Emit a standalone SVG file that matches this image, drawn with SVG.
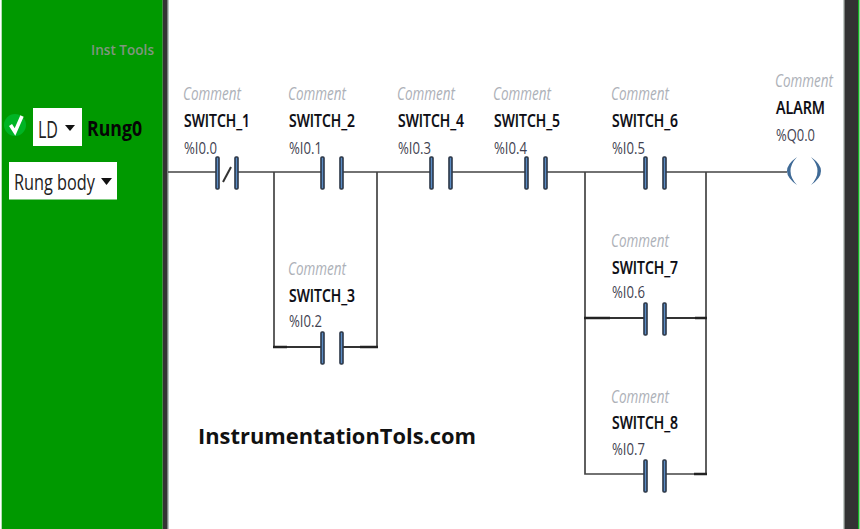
<svg xmlns="http://www.w3.org/2000/svg" width="860" height="529" viewBox="0 0 860 529">
<style>
text{font-family:"Open Sans","Noto Sans","DejaVu Sans",sans-serif}
.c{font-size:17.5px;font-style:italic;fill:#adb1b8}
.n{font-size:18px;font-weight:600;fill:#0a0a12;stroke:#0a0a12;stroke-width:.2}
.a{font-size:17px;fill:#3f3f50}
.bar{fill:#5b8cc4;stroke:#2b3646;stroke-width:1.6}
.w{stroke:#444;stroke-width:1.7;fill:none}
.m{stroke:#333;stroke-width:2.200;fill:none}
.t{stroke:#222;stroke-width:2.600;fill:none}
.p{fill:#3f6a96}
</style>
<defs>
<g id="contact"><rect class="bar" x="0" y="0" width="3" height="32" rx="1"/><rect class="bar" x="19" y="0" width="3" height="32" rx="1"/></g>
</defs>
<rect width="860" height="529" fill="#fff"/>
<g id="panel">
<rect x="1.700" y="0" width="161" height="529" fill="#009900"/>
<rect x="162.700" y="0" width="5" height="529" fill="#333"/>
<rect x="167.700" y="0" width="1" height="529" fill="#9fb0a8"/>
<rect x="843.500" y="0" width="1" height="529" fill="#8a9a90"/>
<rect x="844.500" y="0" width="13.500" height="529" fill="#333"/>
<rect x="858" y="0" width="1.500" height="529" fill="#10b020"/>
<text x="91" y="55" font-size="14" font-weight="600" fill="#7f967f" textLength="63" lengthAdjust="spacingAndGlyphs">Inst Tools</text>
</g>
<g id="status"><circle cx="15" cy="125" r="11" fill="#00b424"/><path d="M10.500 125l4.500 7 7-16" fill="none" stroke="#fff" stroke-width="3.600"/></g>
<g id="ld-select"><rect x="33" y="108" width="49" height="38" fill="#fff"/><text x="38" y="138" font-size="24" fill="#222" textLength="20" lengthAdjust="spacingAndGlyphs">LD</text><path d="M65 125h10l-5 6z" fill="#111"/></g>
<text id="rung-label" x="87" y="136" font-size="20.500" font-weight="700" fill="#050505" textLength="55" lengthAdjust="spacingAndGlyphs">Rung0</text>
<g id="body-select"><rect x="9" y="162" width="108" height="37.500" fill="#fff"/><text x="14" y="190" font-size="21" fill="#222" textLength="81" lengthAdjust="spacingAndGlyphs">Rung body</text><path d="M101 178h11l-5.500 7z" fill="#111"/></g>
<g id="connectors">
<path class="w" d="M168 172H216M237 172H321M342 172H430M451 172H525M546 172H644M665 172H787M274 172V347M377 172V347M585 172V474H644M706 172V474H665"/>
<path class="m" d="M287 347H321M342 347H360M610 318H644M665 318H695"/>
<path class="t" d="M273 347H287M360 347H378M584 318H610M695 318H707M694 474H707"/>
</g>
<g id="sw1"><text class="c" x="183" y="100" textLength="58" lengthAdjust="spacingAndGlyphs">Comment</text><text class="n" x="184" y="127" textLength="66" lengthAdjust="spacingAndGlyphs">SWITCH_1</text><text class="a" x="184" y="154" textLength="33" lengthAdjust="spacingAndGlyphs">%I0.0</text><use href="#contact" x="216" y="157"/><path d="M223 182l8-15" stroke="#333" stroke-width="2"/></g>
<g id="sw2"><text class="c" x="288" y="100" textLength="58" lengthAdjust="spacingAndGlyphs">Comment</text><text class="n" x="289" y="127" textLength="66" lengthAdjust="spacingAndGlyphs">SWITCH_2</text><text class="a" x="289" y="154" textLength="33" lengthAdjust="spacingAndGlyphs">%I0.1</text><use href="#contact" x="321" y="157"/></g>
<g id="sw3"><text class="c" x="288" y="275" textLength="58" lengthAdjust="spacingAndGlyphs">Comment</text><text class="n" x="289" y="302" textLength="66" lengthAdjust="spacingAndGlyphs">SWITCH_3</text><text class="a" x="289" y="327" textLength="33" lengthAdjust="spacingAndGlyphs">%I0.2</text><use href="#contact" x="321" y="332"/></g>
<g id="sw4"><text class="c" x="397" y="100" textLength="58" lengthAdjust="spacingAndGlyphs">Comment</text><text class="n" x="398" y="127" textLength="66" lengthAdjust="spacingAndGlyphs">SWITCH_4</text><text class="a" x="398" y="154" textLength="33" lengthAdjust="spacingAndGlyphs">%I0.3</text><use href="#contact" x="430" y="157"/></g>
<g id="sw5"><text class="c" x="493" y="100" textLength="58" lengthAdjust="spacingAndGlyphs">Comment</text><text class="n" x="494" y="127" textLength="66" lengthAdjust="spacingAndGlyphs">SWITCH_5</text><text class="a" x="494" y="154" textLength="33" lengthAdjust="spacingAndGlyphs">%I0.4</text><use href="#contact" x="525" y="157"/></g>
<g id="sw6"><text class="c" x="611" y="100" textLength="58" lengthAdjust="spacingAndGlyphs">Comment</text><text class="n" x="612" y="127" textLength="66" lengthAdjust="spacingAndGlyphs">SWITCH_6</text><text class="a" x="612" y="154" textLength="33" lengthAdjust="spacingAndGlyphs">%I0.5</text><use href="#contact" x="644" y="157"/></g>
<g id="sw7"><text class="c" x="611" y="247" textLength="58" lengthAdjust="spacingAndGlyphs">Comment</text><text class="n" x="612" y="274" textLength="66" lengthAdjust="spacingAndGlyphs">SWITCH_7</text><text class="a" x="612" y="298" textLength="33" lengthAdjust="spacingAndGlyphs">%I0.6</text><use href="#contact" x="644" y="303"/></g>
<g id="sw8"><text class="c" x="611" y="403" textLength="58" lengthAdjust="spacingAndGlyphs">Comment</text><text class="n" x="612" y="429" textLength="66" lengthAdjust="spacingAndGlyphs">SWITCH_8</text><text class="a" x="612" y="455" textLength="33" lengthAdjust="spacingAndGlyphs">%I0.7</text><use href="#contact" x="644" y="460"/></g>
<g id="coil"><text class="c" x="775" y="87" textLength="58" lengthAdjust="spacingAndGlyphs">Comment</text><text class="n" x="776" y="114" textLength="49" lengthAdjust="spacingAndGlyphs">ALARM</text><text class="a" x="776" y="141" textLength="39" lengthAdjust="spacingAndGlyphs">%Q0.0</text>
<path class="p" d="M797 157Q777 171 797 185Q784 171 797 157ZM811 157Q831 171 811 185Q824 171 811 157Z"/></g>
<text id="watermark" x="198" y="444" font-size="21.900" font-weight="700" fill="#111" textLength="278" lengthAdjust="spacingAndGlyphs">InstrumentationTols.com</text>
</svg>
